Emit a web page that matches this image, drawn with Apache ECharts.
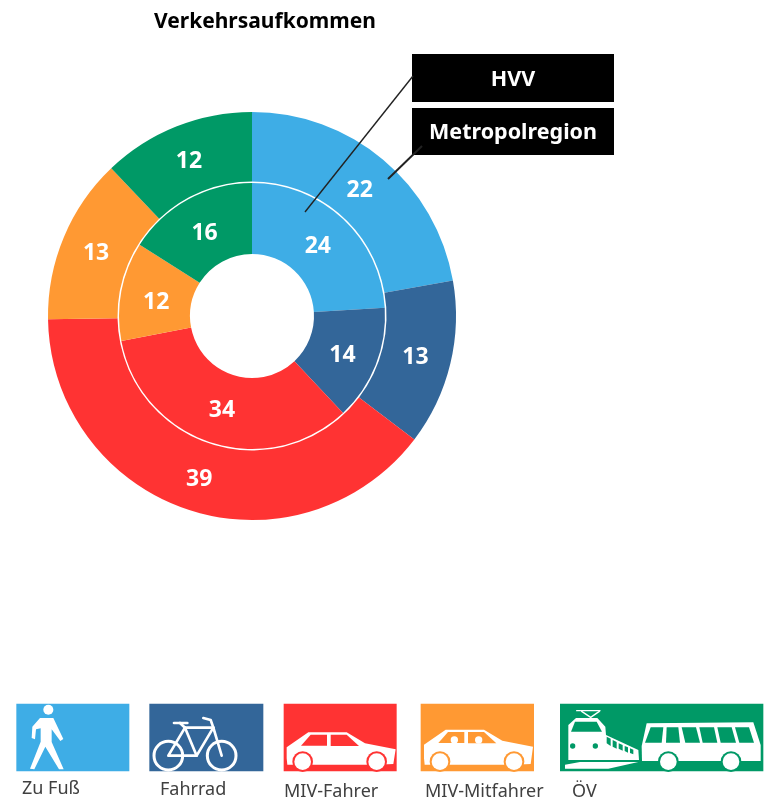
<!DOCTYPE html>
<html><head><meta charset="utf-8">
<style>html,body{margin:0;padding:0;background:#fff}#c{width:768px;height:807px}</style>
<script src="https://cdn.jsdelivr.net/npm/echarts@6/dist/echarts.min.js"></script>
</head><body><div id="c"></div>
<script>
const titleText = 'Verkehrsaufkommen';
const categories = ['Zu Fuß', 'Fahrrad', 'MIV-Fahrer', 'MIV-Mitfahrer', 'ÖV'];
const metropolregion = [22, 13, 39, 13, 12];
const hvv = [24, 14, 34, 12, 16];
const colors = ['#3EADE6', '#336699', '#FF3333', '#FF9933', '#009966'];
const FONT = '"Noto Sans", sans-serif';
const hvvOffsets = [[-3,4],[-3,2],[1,-1],[3,5],[1,6]];
const metroOffsets = [[-3,6],[-4,1],[1,0],[3,4],[1,5]];

function pieData(vals,offs){ return vals.map((v,i)=>({name:categories[i],value:v,itemStyle:{color:colors[i]},label:{offset:offs[i]}})); }
function pie(name, vals, r, offs){
  return {type:'pie',name,radius:r,center:[252,316],startAngle:90,clockwise:true,silent:true,
    avoidLabelOverlap:false,animation:false,data:pieData(vals,offs),labelLine:{show:false},
    label:{show:true,position:'inside',formatter:'{c}',color:'#fff',fontFamily:FONT,fontWeight:'bold',fontSize:23},
    emphasis:{disabled:true}};
}
const W='#fff';
const pts=s=>s.trim().split(/\s+/).map(q=>q.split(',').map(Number));
const fill=(s,c)=>({type:'polygon',shape:{points:pts(s)},style:{fill:c}});
const stroke=(s,c,w)=>({type:'polyline',shape:{points:pts(s)},style:{fill:null,stroke:c,lineWidth:w,lineCap:'round',lineJoin:'round'}});
const disc=(x,y,r,c)=>({type:'circle',shape:{cx:x,cy:y,r},style:{fill:c}});
const ring=(x,y,r,c,w)=>({type:'circle',shape:{cx:x,cy:y,r},style:{fill:null,stroke:c,lineWidth:w}});
const box=(x,y,w,h,c)=>({type:'rect',shape:{x,y,width:w,height:h},style:{fill:c}});

function car(dx,up,c,heads){
  const f=(a,col)=>({type:'polygon',shape:{points:a.map(q=>[q[0]+dx,q[1]+(q[1]<200?up:0)])},style:{fill:col}});
  const els=[
    f([[860,205],[860,172],[925,127],[1040,127],[1095,160],[1187,178],[1180,222],[1130,224],[908,224],[862,224]],W),
    f([[903,167],[932,134],[981,134],[981,167]],c),
    f([[992,134],[1040,134],[1077,168],[992,168]],c),
    disc(908+dx,215,31,c),disc(1130+dx,215,31,c),
    disc(908+dx,215,25,W),disc(1130+dx,215,25,W)
  ];
  if(heads){els.push(disc(951+dx,150,11,W),disc(1024+dx,150,11,W));}
  return els;
}
const icons1=[
  box(49,41,339,203,colors[0]),
  disc(145,59,15,W),
  fill('120,84 160,84 190,147 181,153 155,118 155,156 191,238 177,238 136,170 103,238 90,236 122,155 122,115 108,118 105,148 95,144 97,110',W),
  box(448,41,342,203,colors[1]),
  ring(505,197,43,W,9),ring(665,197,43,W,9),
  stroke('505,197 555,113 640,113 590,197 505,197',W,8),
  stroke('555,113 590,197',W,8),
  stroke('640,113 665,197',W,8),
  stroke('522,99 562,99',W,8),
  stroke('540,99 555,113',W,8),
  stroke('640,113 632,90 610,84',W,8),
  box(851,41,339,203,colors[2]),
  ...car(0,0,colors[2],false)
];
const G=colors[4];
const icons2=[
  box(62,41,340,203,colors[3]),
  ...car(-788,-8,colors[3],true),
  box(480,41,610,203,G),
  stroke('530,62 600,62',W,4),
  stroke('545,64 572,82 598,64',W,4),
  fill('505,210 505,105 528,84 592,84 616,110 618,135 715,180 717,210',W),
  fill('513,125 525,95 590,95 606,125',G),
  disc(518,168,8,G),disc(586,168,8,G),
  fill('620,140 632,146 632,168 620,160',G),
  fill('638,150 650,156 650,176 638,170',G),
  fill('656,160 668,165 668,182 656,176',G),
  fill('674,168 684,172 684,188 674,183',G),
  fill('690,175 700,179 700,193 690,189',G),
  fill('495,236 495,224 540,216 715,216 625,236',W),
  fill('725,168 740,100 1060,97 1082,165 1082,213 726,213',W),
  fill('735,158 752,112 790,112 785,158',G),
  fill('800,112 835,112 840,158 798,158',G),
  fill('845,112 888,112 900,158 856,158',G),
  fill('898,112 942,112 952,158 908,158',G),
  fill('952,112 995,112 1008,158 962,158',G),
  fill('1005,112 1047,112 1062,158 1018,158',G),
  disc(805,215,31,G),disc(993,215,31,G),disc(805,215,25,W),disc(993,215,25,W)
];
const labelPos=[[22,789],[160,790],[284,792],[425,792],[572,792]];
const legendTexts=categories.map((t,i)=>({type:'text',x:labelPos[i][0],y:labelPos[i][1],
  style:{text:t,fill:'#404040',font:'18px '+FONT,textVerticalAlign:'middle'}}));
const calloutNames=['HVV','Metropolregion'];
const calloutBoxes=[[412,54,202,48],[412,108,202,47]];
const callouts=calloutBoxes.map(b=>({type:'rect',shape:{x:b[0],y:b[1],width:b[2],height:b[3]},style:{fill:'#000'},z:5}));
const calloutTexts=[[513,80],[513,133]].map((p,i)=>({type:'text',x:p[0],y:p[1],z:6,
  style:{text:calloutNames[i],fill:'#fff',font:'bold 21.5px '+FONT,textAlign:'center',textVerticalAlign:'middle'}}));
const leaders=[
  {type:'line',z:7,shape:{x1:413,y1:76,x2:305,y2:212},style:{stroke:'#222',lineWidth:1.4}},
  {type:'line',z:7,shape:{x1:422,y1:146,x2:388,y2:179},style:{stroke:'#222',lineWidth:2}}
];
const chart=echarts.init(document.getElementById('c'),null,{renderer:'canvas'});
chart.setOption({
  animation:false,backgroundColor:'#fff',
  title:{text:titleText,left:149,top:7,textStyle:{color:'#000',fontFamily:FONT,fontWeight:'bold',fontSize:21}},
  series:[pie('HVV',hvv,[62,133],hvvOffsets),pie('Metropolregion',metropolregion,[134.5,204],metroOffsets)],
  graphic:[
    {type:'group',x:0,y:690,scaleX:1/3,scaleY:1/3,silent:true,children:icons1},
    {type:'group',x:400,y:690,scaleX:1/3,scaleY:1/3,silent:true,children:icons2},
    ...legendTexts,...callouts,...calloutTexts,...leaders
  ]
});
</script></body></html>
